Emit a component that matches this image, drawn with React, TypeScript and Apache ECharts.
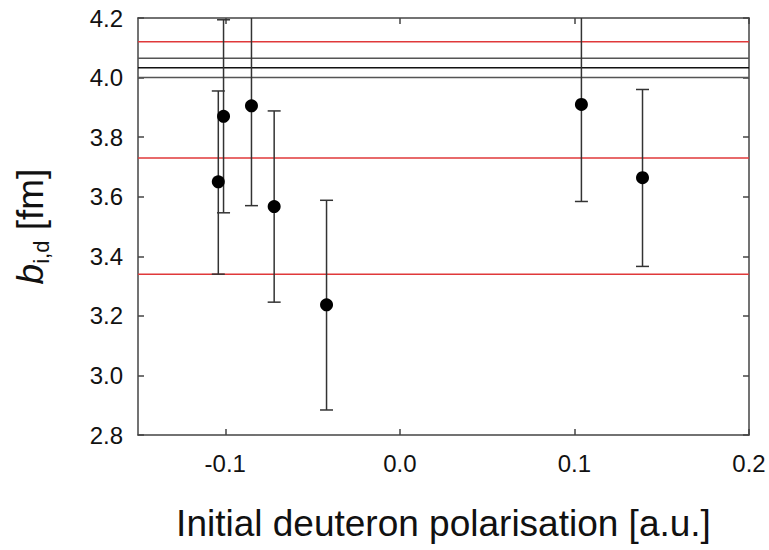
import React, { useEffect, useRef } from "react";
import * as echarts from "echarts";

// Measured impact parameter vs. initial deuteron polarisation
const polarisation = [-0.104, -0.101, -0.085, -0.072, -0.042, 0.104, 0.139];
const bValues = [3.65, 3.87, 3.905, 3.567, 3.237, 3.91, 3.664];
const bLower = [3.34, 3.546, 3.57, 3.246, 2.884, 3.584, 3.366];
const bUpper = [3.955, 4.194, 4.24, 3.888, 3.588, 4.235, 3.96];

// Reference bands: weighted mean ± error (red) and theory ± error (black)
const redLevels = [4.12, 3.73, 3.34];
const blackLevels = [4.065, 4.033, 4.0];
const blackColors = ["#555555", "#111111", "#555555"];

const xTicks = [-0.1, 0.0, 0.1, 0.2];
const xRange = [-0.15, 0.2];
const yRange = [2.8, 4.2];

const FONT = "'Liberation Sans', Arial, sans-serif";

export default function App() {
  const ref = useRef<HTMLDivElement>(null);

  useEffect(() => {
    if (!ref.current) return;
    const chart = echarts.init(ref.current, undefined, { renderer: "svg" });

    const hLine = (v: number, color: string) => ({
      type: "line",
      data: [
        [xRange[0], v],
        [xRange[1], v],
      ],
      symbol: "none",
      silent: true,
      lineStyle: { color, width: 1.5 },
      z: 1,
    });

    const frameColor = "#444444";
    const lineStyle = { color: frameColor, width: 1.5 };
    const tickStyle = { show: true, inside: true, length: 6, lineStyle };

    const option: any = {
      animation: false,
      backgroundColor: "#ffffff",
      grid: { left: 138, top: 18, right: 20, bottom: 115, containLabel: false },
      xAxis: [
        {
          type: "value",
          min: xRange[0],
          max: xRange[1],
          position: "bottom",
          axisLine: { show: true, onZero: false, lineStyle },
          axisTick: { ...tickStyle, customValues: xTicks },
          splitLine: { show: false },
          axisLabel: {
            customValues: xTicks,
            formatter: (v: number) => v.toFixed(1),
            color: "#111",
            fontFamily: FONT,
            fontSize: 24,
            margin: 16,
          },
          name: "Initial deuteron polarisation [a.u.]",
          nameLocation: "middle",
          nameGap: 70,
          nameTextStyle: { color: "#111", fontFamily: FONT, fontSize: 37 },
        },
        {
          type: "value",
          min: xRange[0],
          max: xRange[1],
          position: "top",
          axisLine: { show: true, onZero: false, lineStyle },
          axisTick: { ...tickStyle, customValues: xTicks },
          axisLabel: { show: false },
          splitLine: { show: false },
        },
      ],
      yAxis: [
        {
          type: "value",
          min: yRange[0],
          max: yRange[1],
          interval: 0.2,
          position: "left",
          axisLine: { show: true, onZero: false, lineStyle },
          axisTick: tickStyle,
          splitLine: { show: false },
          axisLabel: {
            formatter: (v: number) => v.toFixed(1),
            color: "#111",
            fontFamily: FONT,
            fontSize: 24,
            margin: 15,
          },
          name: "{b|b}{s|i,d}{n| [fm]}",
          nameLocation: "middle",
          nameRotate: 90,
          nameGap: 86,
          nameTextStyle: {
            fontFamily: FONT,
            color: "#111",
            rich: {
              b: { fontSize: 37, fontStyle: "italic", fontFamily: FONT, color: "#111", lineHeight: 44 },
              s: {
                fontSize: 22,
                fontFamily: FONT,
                color: "#111",
                lineHeight: 22,
                verticalAlign: "bottom",
              },
              n: { fontSize: 37, fontFamily: FONT, color: "#111", lineHeight: 44 },
            },
          },
        },
        {
          type: "value",
          min: yRange[0],
          max: yRange[1],
          interval: 0.2,
          position: "right",
          axisLine: { show: true, onZero: false, lineStyle },
          axisTick: tickStyle,
          axisLabel: { show: false },
          splitLine: { show: false },
        },
      ],
      series: [
        ...redLevels.map((v) => hLine(v, "#e0393a")),
        ...blackLevels.map((v, i) => hLine(v, blackColors[i])),
        {
          type: "custom",
          data: polarisation.map((x, i) => [x, bLower[i], bUpper[i]]),
          encode: { x: 0, y: [1, 2] },
          z: 3,
          silent: true,
          renderItem: (params: any, api: any) => {
            const cs = params.coordSys;
            const top = cs.y;
            const bottom = cs.y + cs.height;
            const lo = api.coord([api.value(0), api.value(1)]);
            const hi = api.coord([api.value(0), api.value(2)]);
            const x = lo[0];
            const yLo = Math.min(bottom, lo[1]);
            const yHi = Math.max(top, hi[1]);
            const half = 6.5;
            const style = { stroke: "#333333", lineWidth: 1.5 };
            const children: any[] = [
              { type: "line", shape: { x1: x, y1: yLo, x2: x, y2: yHi }, style },
            ];
            if (lo[1] <= bottom) {
              children.push({ type: "line", shape: { x1: x - half, y1: lo[1], x2: x + half, y2: lo[1] }, style });
            }
            if (hi[1] >= top) {
              children.push({ type: "line", shape: { x1: x - half, y1: hi[1], x2: x + half, y2: hi[1] }, style });
            }
            return { type: "group", children };
          },
        },
        {
          type: "scatter",
          data: polarisation.map((x, i) => [x, bValues[i]]),
          symbol: "circle",
          symbolSize: 13,
          itemStyle: { color: "#000000", opacity: 1 },
          z: 4,
          silent: true,
        },
      ],
    };

    chart.setOption(option);
    return () => chart.dispose();
  }, []);

  return (
    <div
      ref={ref}
      style={{ position: "fixed", left: 0, top: 0, width: 769, height: 550, background: "#fff" }}
    />
  );
}
